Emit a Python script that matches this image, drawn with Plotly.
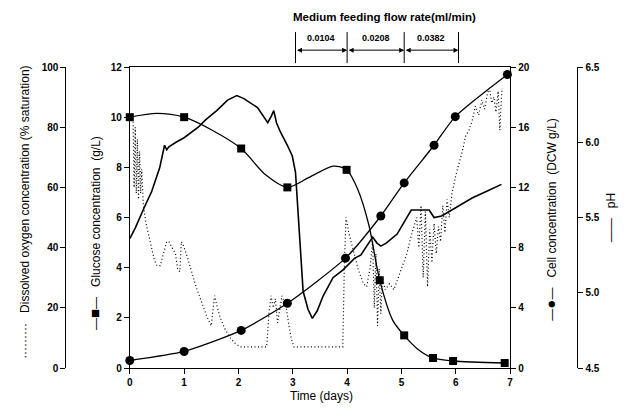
import plotly.graph_objects as go

# ---------------- data ----------------
# Glucose concentration (g/L): measured points (squares)
glu_t = [0, 1, 2.05, 2.9, 3.99, 4.6, 5.05, 5.58, 5.95, 6.9]
glu_v = [10.0, 10.0, 8.75, 7.2, 7.9, 3.5, 1.3, 0.4, 0.28, 0.2]
# Glucose fitted curve
glu_curve_t = [0, 0.5, 1, 1.5, 2.05, 2.5, 2.9, 3.3, 3.75, 3.99, 4.2, 4.4, 4.6, 4.84, 5.05, 5.3, 5.58, 5.95, 6.9]
glu_curve_v = [10.0, 10.15, 10.0, 9.5, 8.75, 7.7, 7.2, 7.6, 8.05, 7.9, 7.1, 5.7, 3.5, 1.9, 1.3, 0.75, 0.4, 0.28, 0.2]

# Cell concentration (DCW g/L)
cell_t = [0, 1, 2.05, 2.9, 3.97, 4.62, 5.05, 5.6, 5.99, 6.95]
cell_v = [0.5, 1.1, 2.5, 4.3, 7.3, 10.1, 12.3, 14.8, 16.7, 19.5]

# pH (online)
ph_t = [0, 0.1, 0.27, 0.4, 0.55, 0.64, 0.68, 0.72, 0.85, 1.0, 1.26, 1.4, 1.6, 1.8, 1.97, 2.1,
        2.35, 2.54, 2.6, 2.65, 2.7, 2.77, 2.9, 2.99, 3.05, 3.1, 3.19, 3.28, 3.36, 3.45, 3.56,
        3.74, 3.92, 4.14, 4.25, 4.47, 4.55, 4.62, 4.72, 4.92, 5.05, 5.18, 5.33, 5.51, 5.6,
        5.74, 6.02, 6.3, 6.6, 6.84]
ph_v = [5.36, 5.43, 5.57, 5.67, 5.83, 5.98, 5.95, 5.97, 6.0, 6.03, 6.1, 6.15, 6.21, 6.28, 6.31, 6.29,
        6.23, 6.13, 6.17, 6.21, 6.13, 6.07, 5.98, 5.91, 5.8, 5.5, 5.01, 4.89, 4.83, 4.88, 4.98,
        5.1, 5.15, 5.23, 5.25, 5.37, 5.33, 5.31, 5.33, 5.39, 5.47, 5.55, 5.55, 5.55, 5.5,
        5.51, 5.57, 5.63, 5.68, 5.72]

# Dissolved oxygen (% saturation, online)
do_t = [0.06, 0.08, 0.10, 0.12, 0.14, 0.16, 0.18, 0.20, 0.22, 0.25, 0.30, 0.38, 0.45, 0.50, 0.56,
        0.62, 0.68, 0.72, 0.78, 0.84, 0.88, 0.92, 0.95, 0.98, 1.04, 1.12, 1.22, 1.32, 1.42, 1.50,
        1.53, 1.56, 1.60, 1.66, 1.75, 1.85, 1.95, 2.05, 2.30, 2.52, 2.56, 2.60, 2.64, 2.68, 2.72,
        2.76, 2.80, 2.84, 2.88, 2.93, 2.97, 3.02, 3.50, 3.92, 3.95, 3.98, 4.03, 4.10, 4.20, 4.30,
        4.36, 4.42, 4.47, 4.50, 4.53, 4.56, 4.59, 4.62, 4.65, 4.70, 4.78, 4.86, 4.94, 5.02, 5.10,
        5.18, 5.24, 5.28, 5.32, 5.36, 5.40, 5.44, 5.48, 5.52, 5.56, 5.60, 5.64, 5.68, 5.72, 5.76,
        5.80, 5.84, 5.88, 5.93, 6.00, 6.06, 6.12, 6.18, 6.24, 6.30, 6.36, 6.42, 6.48, 6.53, 6.58,
        6.62, 6.66, 6.70, 6.74, 6.78, 6.81, 6.85]
do_v = [83, 60, 80, 58, 76, 56, 72, 58, 66, 54, 48, 41, 36, 34, 34,
        38, 42, 42, 40, 38, 33, 32, 42, 41, 38, 33, 27, 22, 17, 14,
        20, 24, 21, 17, 13, 10, 8, 7, 7, 7, 18, 24, 20, 23, 15,
        19, 24, 22, 20, 14, 10, 7, 7, 7, 35, 50, 45, 40, 33, 28,
        27, 33, 42, 20, 38, 14, 33, 18, 30, 26, 28, 26, 30, 34, 38,
        44, 48, 50, 40, 54, 30, 52, 27, 46, 35, 48, 38, 47, 42, 54,
        45, 56, 50, 58, 64, 68, 72, 77, 79, 82, 87, 84, 89, 86, 91,
        93, 88, 90, 85, 92, 79, 93]

# Medium feeding flow rate periods
feed_edges = [3.05, 4.0, 5.05, 6.05]
feed_labels = ["0.0104", "0.0208", "0.0382"]

# ---------------- figure ----------------
FONT = "Liberation Sans, Arial, sans-serif"
fig = go.Figure()

fig.add_trace(go.Scatter(x=do_t, y=do_v, mode="lines", yaxis="y2",
                         line=dict(color="black", width=1.2, dash="1px,2.5px")))
fig.add_trace(go.Scatter(x=ph_t, y=ph_v, mode="lines", yaxis="y4",
                         line=dict(color="black", width=1.6)))
fig.add_trace(go.Scatter(x=glu_curve_t, y=glu_curve_v, mode="lines", yaxis="y",
                         line=dict(color="black", width=1.3, shape="spline", smoothing=0.8)))
fig.add_trace(go.Scatter(x=glu_t, y=glu_v, mode="markers", yaxis="y", cliponaxis=False,
                         marker=dict(symbol="square", size=8, color="black")))
fig.add_trace(go.Scatter(x=cell_t, y=cell_v, mode="lines+markers", yaxis="y3", cliponaxis=False,
                         line=dict(color="black", width=1.3, shape="spline", smoothing=0.6),
                         marker=dict(symbol="circle", size=9, color="black")))

W, H = 631, 411
tickfont = dict(family=FONT, size=10, color="black", weight="bold")
axis_common = dict(showgrid=False, zeroline=False, showline=True, linecolor="black", linewidth=1,
                   ticks="outside", ticklen=5, tickcolor="black", tickwidth=1, tickfont=tickfont)

fig.update_layout(
    width=W, height=H,
    margin=dict(l=0, r=0, t=67, b=43),
    paper_bgcolor="white", plot_bgcolor="white",
    showlegend=False,
    font=dict(family=FONT, color="black", size=10),
    xaxis=dict(domain=[128 / W, 512 / W], range=[0, 7], dtick=1, mirror=True, **axis_common),
    yaxis=dict(range=[0, 12], dtick=2, **axis_common),
    yaxis2=dict(range=[0, 100], dtick=20, overlaying="y", anchor="free", position=63 / W,
                side="left", **axis_common),
    yaxis3=dict(range=[0, 20], dtick=4, overlaying="y", anchor="x", side="right", **axis_common),
    yaxis4=dict(range=[4.5, 6.5], dtick=0.5, tickformat=".1f", overlaying="y", anchor="free",
                position=580 / W, side="right", **axis_common),
)

title_font = dict(family=FONT, size=12, color="black")
big = '<span style="font-size:15px">{}</span>'
ann = []
common = dict(xref="paper", yref="paper", showarrow=False, font=title_font,
              xanchor="center", yanchor="middle")
ann.append(dict(text="·········   Dissolved oxygen concentration (% saturation)", textangle=-90,
                x=22 / W, y=0.518, **common))
ann.append(dict(text="—" + big.format("■") + "—   Glucose concentration  (g/L)", textangle=-90,
                x=93 / W, y=0.449, **common))
ann.append(dict(text="—" + big.format("●") + "—   Cell concentration  (DCW g/L)", textangle=-90,
                x=553 / W, y=0.492, **common))
ann.append(dict(text="——   pH", textangle=-90, x=614 / W, y=0.498, **common))
ann.append(dict(text="Time (days)", x=322 / W, y=-0.094, **common))
c2 = dict(common)
c2["font"] = dict(family=FONT, size=11.5, color="black", weight="bold")
ann.append(dict(text="Medium feeding flow rate(ml/min)", x=385 / W, y=1.166, **c2))

shapes = []
for e in feed_edges:
    shapes.append(dict(type="line", xref="x", yref="paper", x0=e, x1=e, y0=1.013, y1=1.116,
                       line=dict(color="black", width=1)))
for i, lab in enumerate(feed_labels):
    a, b = feed_edges[i], feed_edges[i + 1]
    ann.append(dict(x=b, y=1.056, xref="x", yref="paper", ax=a, ay=0, axref="x",
                    showarrow=True, arrowhead=2, arrowside="end+start", arrowsize=1,
                    arrowwidth=1, arrowcolor="black", text="", standoff=0, startstandoff=0))
    ann.append(dict(x=(a + b) / 2, y=1.096, xref="x", yref="paper", text=lab, showarrow=False,
                    xanchor="center", yanchor="middle",
                    font=dict(family=FONT, size=9, color="black", weight="bold")))

fig.update_layout(annotations=ann, shapes=shapes)
fig.write_html("out.html")
